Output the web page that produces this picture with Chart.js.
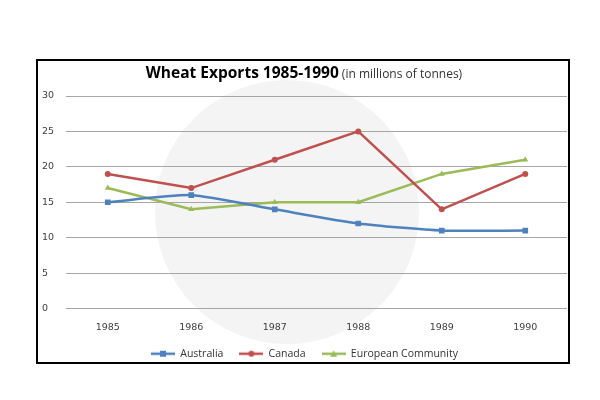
<!DOCTYPE html>
<html>
<head>
<meta charset="utf-8">
<script src="https://cdn.jsdelivr.net/npm/chart.js@4/dist/chart.umd.min.js"></script>
<style>
  html, body { margin: 0; padding: 0; background: #fff; }
  #wrap { position: relative; width: 600px; height: 400px; }
  #frame { position: absolute; left: 36px; top: 59px; width: 530px; height: 301px; border: 2px solid #000; }
  #mark { position: absolute; left: 155px; top: 80px; width: 264px; height: 264px; border-radius: 50%; background: #f4f4f4; }
  canvas { position: absolute; left: 0; top: 0; }
</style>
</head>
<body>
<div id="wrap">
  <div id="frame"></div>
  <div id="mark"></div>
  <canvas id="chart" width="600" height="400"></canvas>
</div>
<script>
// values
const years = ['1985', '1986', '1987', '1988', '1989', '1990'];
const australia = [15, 16, 14, 12, 11, 11];
const canada = [19, 17, 21, 25, 14, 19];
const europe = [17, 14, 15, 15, 19, 21];
const yTicks = [0, 5, 10, 15, 20, 25, 30];

const blue = '#4f81bd';
const red = '#c0504d';
const green = '#9bbb59';

// legend swatch: a short line with the marker on it, like the office charts
function legendIcon(color, style) {
    const c = document.createElement('canvas');
    c.width = 24; c.height = 10;
    const g = c.getContext('2d');
    g.strokeStyle = color;
    g.fillStyle = color;
    g.lineWidth = 2.5;
    g.beginPath();
    g.moveTo(0, 5); g.lineTo(24, 5);
    g.stroke();
    g.beginPath();
    if (style === 'rect') {
        g.rect(9, 2, 6, 6);
    } else if (style === 'circle') {
        g.arc(12, 5, 3, 0, Math.PI * 2);
    } else {
        g.moveTo(12, 1.5); g.lineTo(15.5, 8); g.lineTo(8.5, 8); g.closePath();
    }
    g.fill();
    return c;
}

// title with the bold part and the light part on one line
const titlePlugin = {
    id: 'mixedTitle',
    afterDraw(chart) {
        const ctx = chart.ctx;
        const bold = 'Wheat Exports 1985-1990';
        const light = ' (in millions of tonnes)';
        ctx.save();
        ctx.textBaseline = 'middle';
        ctx.font = 'bold 15.5px "Open Sans", sans-serif';
        const w1 = ctx.measureText(bold).width;
        ctx.font = '12px "Open Sans", sans-serif';
        const w2 = ctx.measureText(light).width;
        const x0 = 304 - (w1 + w2) / 2;
        ctx.fillStyle = '#000';
        ctx.font = 'bold 15.5px "Open Sans", sans-serif';
        ctx.fillText(bold, x0, 74);
        ctx.fillStyle = '#333';
        ctx.font = '12px "Open Sans", sans-serif';
        ctx.fillText(light, x0 + w1, 75);
        ctx.restore();
    }
};

const ctx = document.getElementById('chart').getContext('2d');

new Chart(ctx, {
    type: 'line',
    data: {
        labels: years,
        datasets: [{
            label: 'Australia',
            data: australia,
            borderColor: blue,
            backgroundColor: blue,
            borderWidth: 2.5,
            pointStyle: 'rect',
            pointRadius: 4,
            pointBorderWidth: 0,
            tension: 0.2,
            legendIcon: legendIcon(blue, 'rect')
        }, {
            label: 'Canada',
            data: canada,
            borderColor: red,
            backgroundColor: red,
            borderWidth: 2.5,
            pointStyle: 'circle',
            pointRadius: 3,
            pointBorderWidth: 0,
            tension: 0,
            legendIcon: legendIcon(red, 'circle')
        }, {
            label: 'European Community',
            data: europe,
            borderColor: green,
            backgroundColor: green,
            borderWidth: 2.5,
            pointStyle: 'triangle',
            pointRadius: 3.5,
            pointBorderWidth: 0,
            tension: 0,
            legendIcon: legendIcon(green, 'triangle')
        }]
    },
    options: {
        responsive: false,
        animation: false,
        layout: {
            padding: { left: 42, right: 33, top: 96, bottom: 31 }
        },
        scales: {
            x: {
                offset: true,
                grid: { display: false },
                border: { display: false },
                ticks: {
                    color: '#404040',
                    padding: 5,
                    font: { family: 'DejaVu Sans', size: 9.5 }
                },
                afterFit(scale) { scale.height = 24; }
            },
            y: {
                min: 0,
                max: 30,
                afterBuildTicks(scale) {
                    scale.ticks = yTicks.map(v => ({ value: v }));
                },
                grid: { color: '#a6a6a6', drawTicks: false, lineWidth: 1 },
                border: { display: false },
                ticks: {
                    color: '#404040',
                    padding: 10,
                    crossAlign: 'far',
                    font: { family: 'DejaVu Sans', size: 9.5 }
                },
                afterFit(scale) { scale.width = 24; }
            }
        },
        plugins: {
            title: { display: false },
            tooltip: { enabled: false },
            legend: {
                position: 'bottom',
                labels: {
                    color: '#333',
                    font: { family: 'Open Sans', size: 10.5 },
                    padding: 16,
                    usePointStyle: true,
                    pointStyleWidth: 24,
                    generateLabels(chart) {
                        return chart.data.datasets.map((ds, i) => ({
                            text: ds.label,
                            pointStyle: ds.legendIcon,
                            fillStyle: ds.borderColor,
                            strokeStyle: ds.borderColor,
                            fontColor: '#333',
                            lineWidth: 0,
                            datasetIndex: i,
                            hidden: false
                        }));
                    }
                }
            }
        }
    },
    plugins: [titlePlugin]
});
</script>
</body>
</html>
